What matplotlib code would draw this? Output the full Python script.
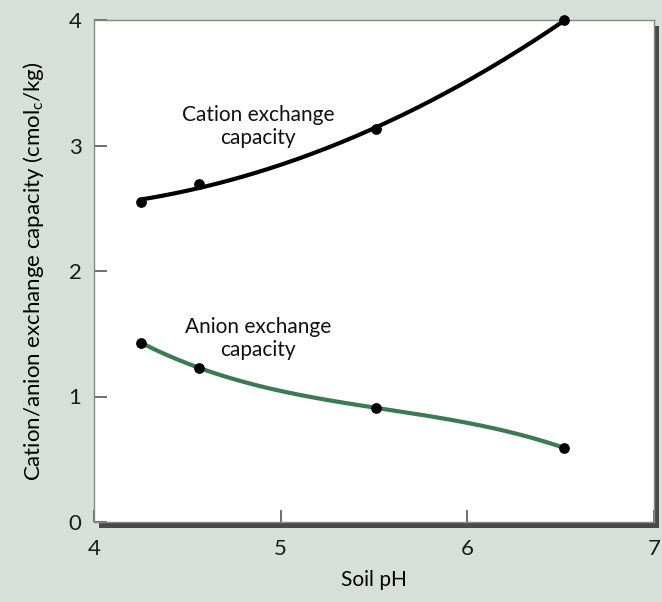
import numpy as np
import matplotlib
matplotlib.use("Agg")
import matplotlib.pyplot as plt

plt.rcParams['font.family'] = ['Lato', 'DejaVu Sans']

# soil pH readings
ph = [4.25, 4.56, 5.51, 6.52]
# cation exchange capacity (cmolc/kg)
cec = [2.55, 2.69, 3.13, 4.0]
# anion exchange capacity (cmolc/kg)
aec = [1.43, 1.23, 0.91, 0.59]

bg = '#d6e0d8'
fig = plt.figure(figsize=(6.62, 6.02), dpi=100, facecolor=bg)
l, b, w, h = 94/662, 80/602, 560/662, 502/602

# drop shadow behind the white box
shadow = fig.add_axes([l + 5/662, b - 6/602, w, h], zorder=0)
shadow.set_facecolor('#4a4a4a')
shadow.set_xticks([])
shadow.set_yticks([])
for s in shadow.spines.values():
    s.set_visible(False)

ax = fig.add_axes([l, b, w, h], zorder=1)

# smooth trend curves through the points
xs = np.linspace(ph[0], ph[-1], 200)
c1 = np.polyfit(ph, cec, 2)
c2 = np.polyfit(ph, aec, 3)
ax.plot(xs, np.polyval(c1, xs), color='black', lw=3, solid_capstyle='round', zorder=2)
ax.plot(xs, np.polyval(c2, xs), color='#3c7a52', lw=3, solid_capstyle='round', zorder=2)
ax.scatter(ph, cec, s=45, color='black', zorder=3, clip_on=False)
ax.scatter(ph, aec, s=45, color='black', zorder=3, clip_on=False)

ax.text(4.88, 3.15, 'Cation exchange\ncapacity', ha='center', va='center',
        fontsize=15, linespacing=1.2, color='#111111')
ax.text(4.88, 1.46, 'Anion exchange\ncapacity', ha='center', va='center',
        fontsize=15, linespacing=1.2, color='#111111')

ax.set_xlim(4, 7)
ax.set_ylim(0, 4)
ax.set_xticks([4, 5, 6, 7])
ax.set_yticks([0, 1, 2, 3, 4])
ax.tick_params(axis='both', direction='in', length=9, width=1.2, color='#555555',
               labelsize=16, labelcolor='#1a1a1a')
ax.tick_params(axis='x', pad=12)
ax.tick_params(axis='y', pad=9)
for s in ax.spines.values():
    s.set_color('#888888')
    s.set_linewidth(1)

ax.set_xlabel('Soil pH', fontsize=15, labelpad=8)
ax.set_ylabel('Cation/anion exchange capacity (cmol$_\\mathregular{c}$/kg)', fontsize=16, labelpad=16)

fig.savefig('out.png', dpi=100, facecolor=bg)
